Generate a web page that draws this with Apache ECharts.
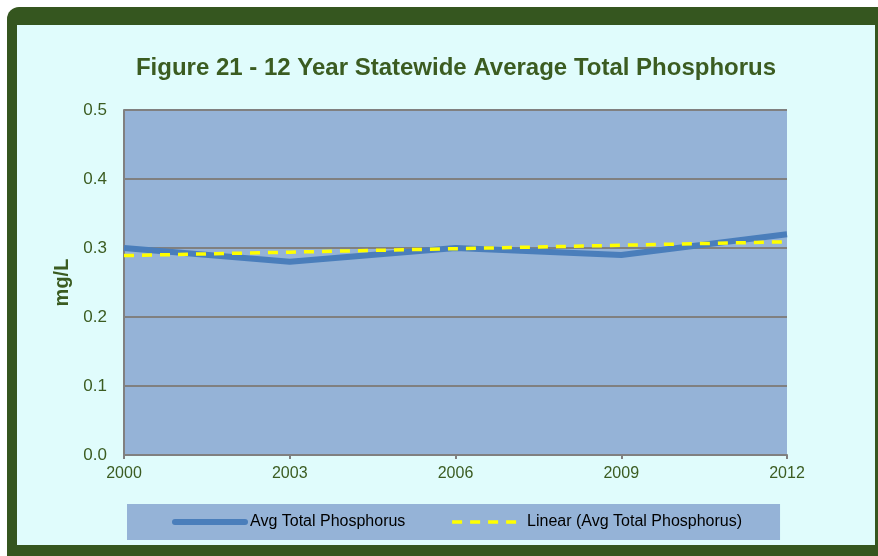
<!DOCTYPE html>
<html>
<head>
<meta charset="utf-8">
<script src="https://cdn.jsdelivr.net/npm/echarts@6/dist/echarts.min.js"></script>
<style>
  html, body { margin: 0; padding: 0; background: #ffffff; }
  #frame {
    position: absolute; left: 7px; top: 7px; width: 871px; height: 549px;
    background: #35561f; border-top-left-radius: 12px;
  }
  #inner {
    position: absolute; left: 17px; top: 25px; width: 858px; height: 520px;
    background: #e0fcfc;
  }
  #chart { position: absolute; left: 0; top: 0; width: 878px; height: 556px; }
</style>
</head>
<body>
<div id="frame"></div>
<div id="inner"></div>
<div id="chart"></div>
<script>
// 数据
var years = ["2000", "2003", "2006", "2009", "2012"];
var avgTP = [0.30, 0.28, 0.30, 0.29, 0.32];
// 线性趋势线
var linearTP = [0.289, 0.294, 0.299, 0.304, 0.309];

var green = "#3b5c21";
var chart = echarts.init(document.getElementById("chart"));
var option = {
  backgroundColor: "transparent",
  title: {
    text: "Figure 21 - 12 Year Statewide Average Total Phosphorus",
    left: 451,
    textAlign: "center",
    top: 51,
    textStyle: { color: green, fontFamily: "Arial", fontWeight: "bold", fontSize: 24 },
  },
  grid: {
    left: 124, top: 110, width: 663, height: 345,
    show: true, backgroundColor: "#95b3d7", borderWidth: 0,
  },
  legend: {
    left: 127, top: 504,
    padding: [10, 38, 10, 45],
    backgroundColor: "#95b3d7",
    itemWidth: 70, itemHeight: 14, itemGap: 45,
    itemStyle: { opacity: 0 },
    textStyle: { color: "#000000", fontFamily: "Arial", fontSize: 16 },
    data: [
      { name: "Avg Total Phosphorus", lineStyle: { color: "#4a7ebb", width: 6, cap: "round" } },
      { name: "Linear (Avg Total Phosphorus)", lineStyle: { color: "#ffff00", width: 3.5, type: [10, 8] } },
    ],
  },
  xAxis: {
    type: "category",
    data: years,
    boundaryGap: false,
    axisLine: { lineStyle: { color: "#808080", width: 2 } },
    axisTick: { show: true, length: 4, lineStyle: { color: "#808080", width: 2 } },
    axisLabel: { color: green, fontFamily: "Arial", fontSize: 16, margin: 11 },
  },
  yAxis: {
    type: "value",
    min: 0, max: 0.5, interval: 0.1,
    name: "mg/L",
    nameLocation: "middle",
    nameGap: 50,
    nameTextStyle: { color: green, fontFamily: "Arial", fontWeight: "bold", fontSize: 20 },
    axisLine: { show: true, lineStyle: { color: "#808080", width: 2 } },
    axisTick: { show: false },
    axisLabel: {
      color: green, fontFamily: "Arial", fontSize: 17, margin: 17,
      formatter: function (v) { return v.toFixed(1); },
    },
    splitLine: { lineStyle: { color: "#808080", width: 2 } },
  },
  series: [
    {
      name: "Avg Total Phosphorus",
      type: "line",
      data: avgTP,
      symbol: "none",
      lineStyle: { color: "#4a7ebb", width: 6 },
      itemStyle: { color: "#4a7ebb" },
      z: 3,
    },
    {
      name: "Linear (Avg Total Phosphorus)",
      type: "line",
      data: linearTP,
      symbol: "none",
      lineStyle: { color: "#ffff00", width: 3.5, type: [10, 8] },
      itemStyle: { color: "#ffff00" },
      z: 4,
    },
  ],
};
chart.setOption(option);
</script>
</body>
</html>
